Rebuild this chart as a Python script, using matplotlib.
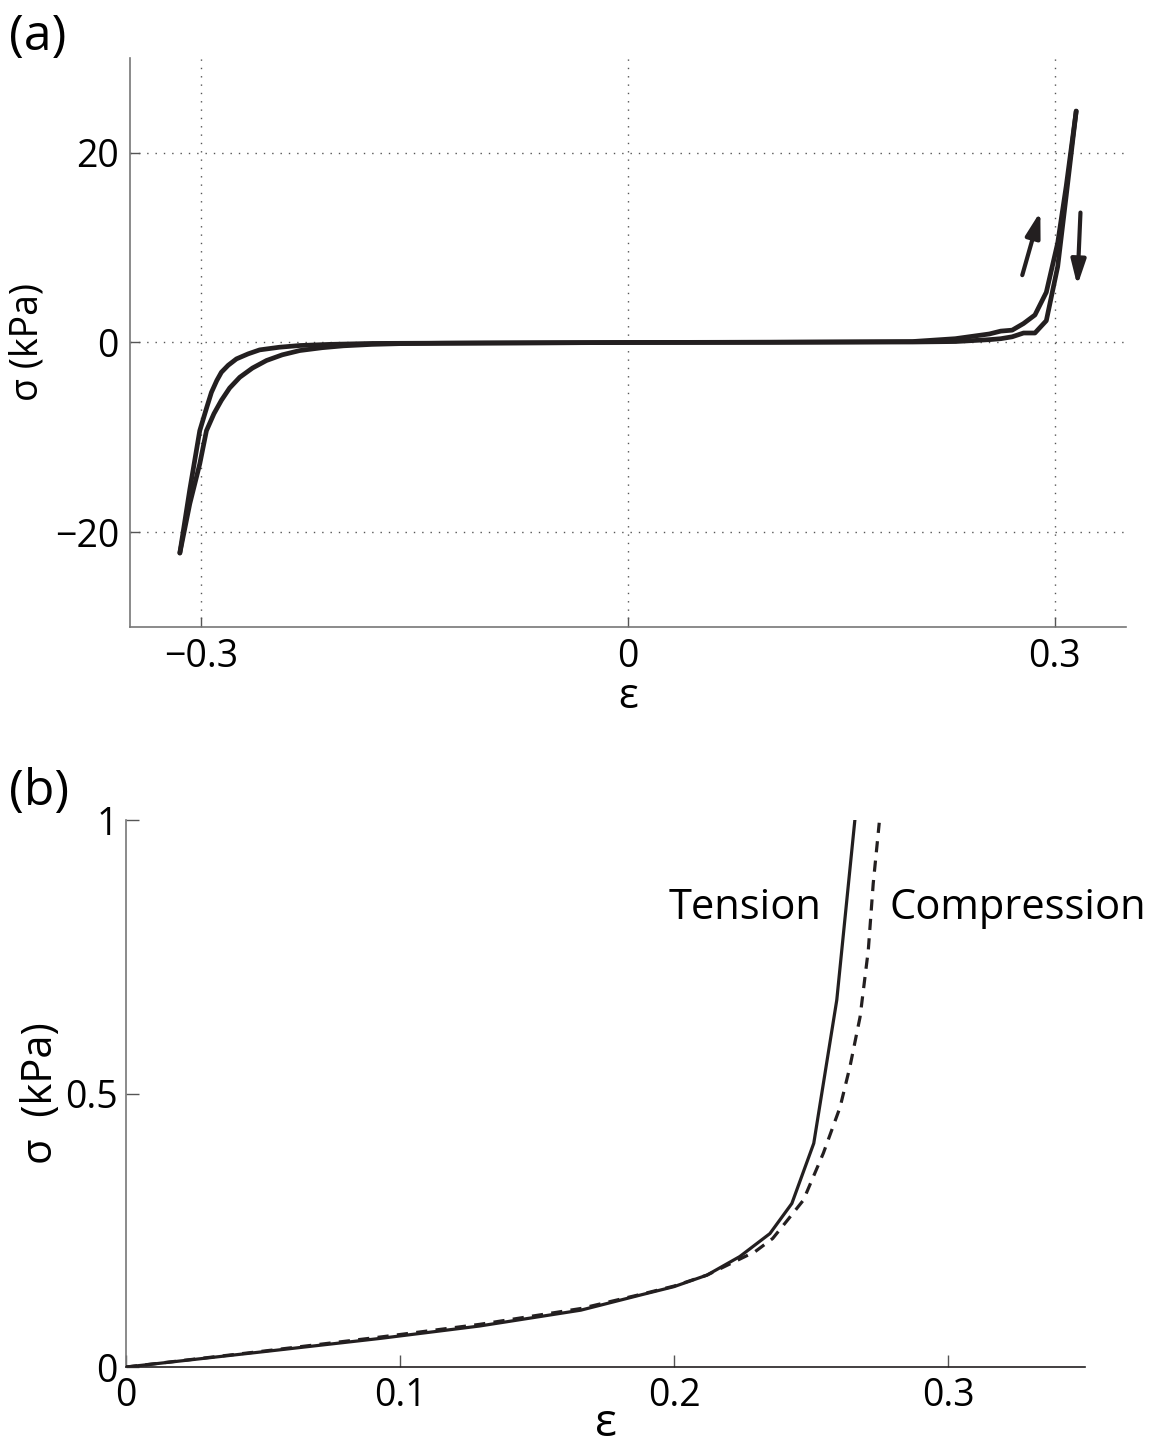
import numpy as np
import matplotlib as mpl
mpl.use('Agg')
import matplotlib.pyplot as plt

plt.rcParams['font.family'] = ['Open Sans', 'DejaVu Sans']

ink = '#231f20'

# (a) full loop, upper branch
eps_up = [-0.315, -0.308, -0.301, -0.296, -0.2928, -0.289, -0.2858, -0.281, -0.2752,
          -0.267, -0.2589, -0.245, -0.2307, -0.21, -0.18,
          -0.100, 0.0, 0.100, 0.200, 0.230, 0.254, 0.262, 0.270, 0.278, 0.286,
          0.294, 0.302, 0.308, 0.315]
sig_up = [-22.2, -15.5, -9.3, -6.8, -5.26, -4.0, -3.14, -2.4, -1.73,
          -1.2, -0.78, -0.5, -0.32, -0.2, -0.1,
          -0.05, 0.0, 0.03, 0.1, 0.4, 0.9, 1.2, 1.3, 2.0, 2.9,
          5.3, 10.5, 16.5, 24.4]
# lower branch
eps_lo = [-0.315, -0.308, -0.301, -0.2963, -0.291, -0.2858, -0.28, -0.2729, -0.264,
          -0.2541, -0.243, -0.2307, -0.215, -0.200, -0.180, -0.160, -0.130,
          -0.100, 0.0, 0.100, 0.200, 0.230, 0.254, 0.262, 0.270, 0.278,
          0.286, 0.294, 0.302, 0.308, 0.315]
sig_lo = [-22.2, -17.0, -12.8, -9.3, -7.5, -6.1, -4.8, -3.67, -2.7,
          -1.9, -1.3, -0.85, -0.55, -0.35, -0.2, -0.12, -0.08,
          -0.06, 0.0, 0.02, 0.05, 0.1, 0.3, 0.4, 0.6, 1.0,
          1.0, 2.3, 8.0, 15.5, 24.4]

# (b) tension vs compression
eps_t = [0, 0.05, 0.093, 0.129, 0.166, 0.188, 0.200, 0.212, 0.224, 0.235,
         0.243, 0.251, 0.2594, 0.266]
sig_t = [0, 0.028, 0.0525, 0.075, 0.104, 0.132, 0.147, 0.168, 0.202, 0.244,
         0.299, 0.409, 0.671, 1.0]
eps_c = [0, 0.05, 0.093, 0.129, 0.166, 0.188, 0.200, 0.212, 0.2296, 0.236,
         0.241, 0.2472, 0.2545, 0.2606, 0.2642, 0.2679, 0.2709, 0.2727, 0.2749]
sig_c = [0, 0.029, 0.055, 0.078, 0.107, 0.133, 0.148, 0.168, 0.211, 0.235,
         0.266, 0.305, 0.391, 0.475, 0.549, 0.640, 0.762, 0.884, 0.995]

fig = plt.figure(figsize=(11.57, 14.46), dpi=100)

# ---- panel (a)
ax1 = fig.add_axes([0.1124, 0.5664, 0.8608, 0.3935])
ax1.plot(eps_up, sig_up, color=ink, lw=3.4, solid_joinstyle='round', solid_capstyle='round', zorder=3)
ax1.plot(eps_lo, sig_lo, color=ink, lw=3.4, solid_joinstyle='round', solid_capstyle='round', zorder=3)
ax1.set_xlim(-0.35, 0.35)
ax1.set_ylim(-30, 30)
ax1.set_xticks([-0.3, 0, 0.3])
ax1.set_xticklabels(['\u22120.3', '0', '0.3'])
ax1.set_yticks([-20, 0, 20])
ax1.set_yticklabels(['\u221220', '0', '20'])
ax1.grid(True, ls=(0, (1, 5)), color='#555555', lw=1.0)
for s in ['top', 'right']:
    ax1.spines[s].set_visible(False)
for s in ['left', 'bottom']:
    ax1.spines[s].set_color('#777777')
    ax1.spines[s].set_linewidth(1.2)
ax1.tick_params(direction='in', length=7, width=1, colors='#555555', labelcolor='black',
                labelsize=27, pad=8)
ax1.set_xlabel('\u03b5', fontsize=30, labelpad=0)
ax1.set_ylabel('\u03c3 (kPa)', fontsize=27, labelpad=6)

# loading / unloading arrows
arrow_style = '-|>,head_width=0.22,head_length=0.75'
ax1.annotate('', xy=(0.2898, 13.8), xytext=(0.2771, 7.1),
             arrowprops=dict(arrowstyle=arrow_style, color=ink, lw=3, mutation_scale=20,
                             shrinkA=0, shrinkB=0))
ax1.annotate('', xy=(0.3158, 6.0), xytext=(0.318, 13.7),
             arrowprops=dict(arrowstyle=arrow_style, color=ink, lw=3, mutation_scale=20,
                             shrinkA=0, shrinkB=0))

fig.text(0.008, 0.957, '(a)', fontsize=36, ha='left', va='bottom')

# ---- panel (b)
ax2 = fig.add_axes([0.1089, 0.0546, 0.8289, 0.3783])
ax2.plot(eps_t, sig_t, color=ink, lw=2.3, solid_joinstyle='miter', zorder=3)
ax2.plot(eps_c, sig_c, color=ink, lw=2.3, dashes=(3.5, 2.6), zorder=3)
ax2.set_xlim(0, 0.35)
ax2.set_ylim(0, 1)
ax2.set_xticks([0, 0.1, 0.2, 0.3])
ax2.set_xticklabels(['0', '0.1', '0.2', '0.3'])
ax2.set_yticks([0, 0.5, 1])
ax2.set_yticklabels(['0', '0.5', '1'])
for s in ['top', 'right']:
    ax2.spines[s].set_visible(False)
ax2.spines['left'].set_color('#777777')
ax2.spines['left'].set_linewidth(1.2)
ax2.spines['bottom'].set_color(ink)
ax2.spines['bottom'].set_linewidth(1.2)
ax2.tick_params(direction='in', length=9, width=1, colors='#555555', labelcolor='black',
                labelsize=27)
ax2.tick_params(axis='x', pad=7)
ax2.tick_params(axis='y', pad=6)
ax2.set_xlabel('\u03b5', fontsize=33, labelpad=-10)
ax2.set_ylabel('\u03c3  (kPa)', fontsize=30, labelpad=2)

ax2.text(0.226, 0.84, 'Tension', fontsize=30, ha='center', va='center')
ax2.text(0.2788, 0.84, 'Compression', fontsize=30, ha='left', va='center')

fig.text(0.008, 0.435, '(b)', fontsize=36, ha='left', va='bottom')

plt.savefig('out.png', dpi=100)
plt.close()
